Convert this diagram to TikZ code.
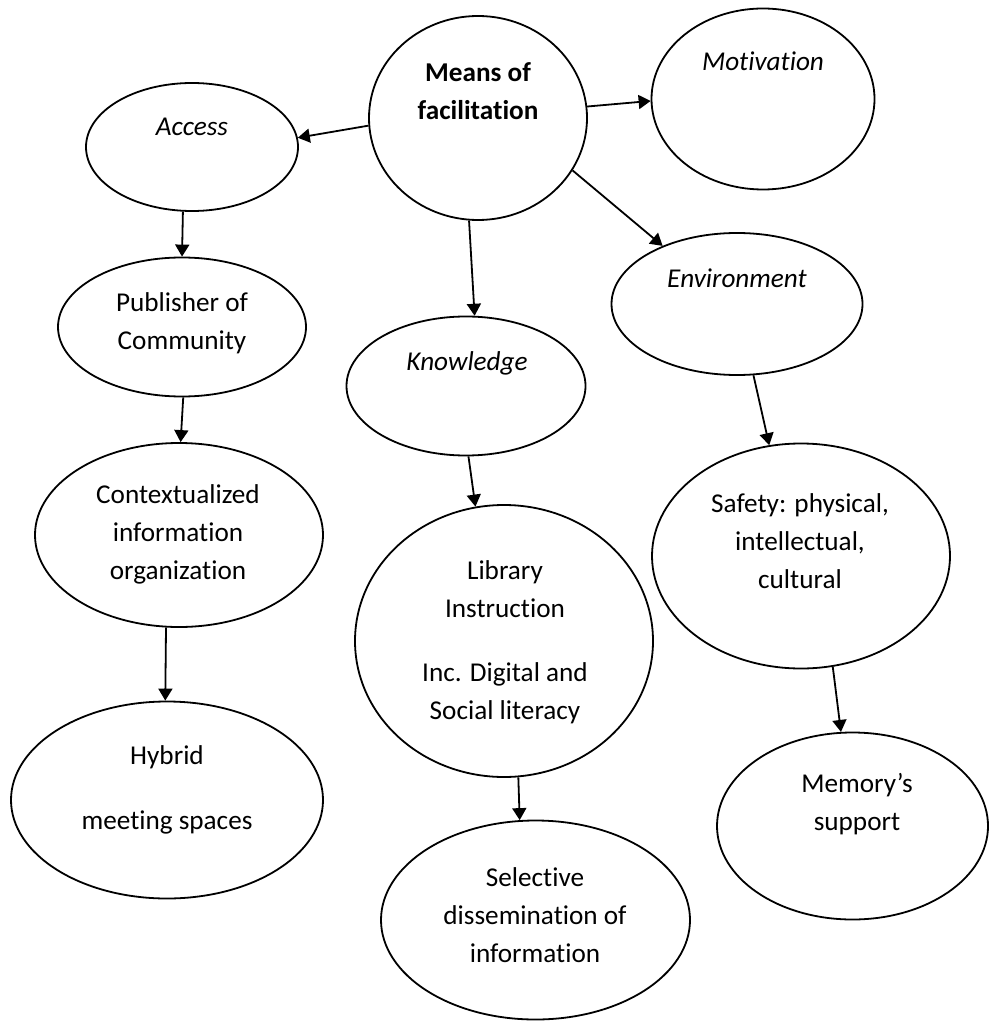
\documentclass[tikz,border=0pt]{standalone}
\usepackage{fontspec}
\setmainfont[Ligatures=NoCommon]{Carlito}
\usepackage{xcolor}
\definecolor{cLine}{HTML}{000000}
\usepackage{tikz}
\usetikzlibrary{arrows.meta,shapes.geometric}
\newcommand{\ovalfont}{\fontsize{13.6}{19}\selectfont}
\tikzset{
  node-oval/.style={draw=cLine,line width=0.9pt,ellipse,inner sep=0pt},
  oval-size/.style 2 args={minimum width=#1,minimum height=#2},
  node-text/.style={align=center,inner sep=0pt,font=\ovalfont},
  node-key/.style={node-text,font=\ovalfont\itshape},
  node-main/.style={node-text,font=\ovalfont\bfseries},
  arrow/.style={-{Triangle[length=6pt,width=7pt]},line width=0.9pt,draw=cLine},
}

\begin{document}
\begin{tikzpicture}[x=0.5pt,y=-0.5pt]
  \useasboundingbox (0,0) rectangle (989,1021);
  % ovals (empty, text goes in separately like in the source doc)
  \node[node-oval,oval-size={109pt}{102pt}] (means) at (478,118) {};
  \node[node-oval,oval-size={111.5pt}{90.5pt}] (motiv) at (763,99) {};
  \node[node-oval,oval-size={106pt}{64pt}] (access) at (192,147) {};
  \node[node-oval,oval-size={124pt}{69.5pt}] (pub) at (182,327) {};
  \node[node-oval,oval-size={144pt}{92pt}] (ctx) at (179,535) {};
  \node[node-oval,oval-size={156pt}{98.5pt}] (hybrid) at (167,800) {};
  \node[node-oval,oval-size={119.5pt}{69.5pt}] (know) at (466,386) {};
  \node[node-oval,oval-size={125.5pt}{71pt}] (env) at (737,304) {};
  \node[node-oval,oval-size={149pt}{136pt}] (lib) at (504,641) {};
  \node[node-oval,oval-size={154.5pt}{99.5pt}] (sel) at (535.5,920) {};
  \node[node-oval,oval-size={149pt}{112.5pt}] (safety) at (801,556) {};
  \node[node-oval,oval-size={135.5pt}{93.5pt}] (memory) at (852.5,826) {};

  \node[node-main] (means-t) at (478,91) {Means of\\facilitation};
  \node[node-key] (motiv-t) at (763,61) {Motivation};
  \node[node-key] (access-t) at (192,127) {Access};
  \node[node-text] (pub-t) at (182,323) {Publisher of\\Community};
  \node[node-text] (ctx-t) at (178,534) {Contextualized\\information\\organization};
  \node[node-text] (hybrid-t) at (167,789.5) {Hybrid\\[13.5pt]meeting spaces};
  \node[node-key] (know-t) at (467,363) {Knowledge};
  \node[node-key] (env-t) at (737,278) {Environment};
  \node[node-text] (lib-t) at (505,642) {Library\\Instruction\\[13pt]Inc. Digital and\\Social literacy};
  \node[node-text] (sel-t) at (535,915) {Selective\\dissemination of\\information};
  \node[node-text] (safety-t) at (800,541) {Safety: physical,\\intellectual,\\cultural};
  \node[node-text] (memory-t) at (857,804) {Memory’s\\support};

  \draw[arrow] (means.184) -- (access.5);
  \draw[arrow] (means.6) -- (motiv.181);
  \draw[arrow] (means.265) -- (know.83);
  \draw[arrow] (means.331) -- (env.142);
  \draw[arrow] (access.262) -- (pub.90);
  \draw[arrow] (pub.271) -- (ctx.89);
  \draw[arrow] (ctx.262) -- (hybrid.91);
  \draw[arrow] (know.272) -- (lib.102);
  \draw[arrow] (lib.276) -- (sel.99);
  \draw[arrow] (env.283) -- (safety.106);
  \draw[arrow] (safety.286) -- (memory.97);
\end{tikzpicture}
\end{document}
